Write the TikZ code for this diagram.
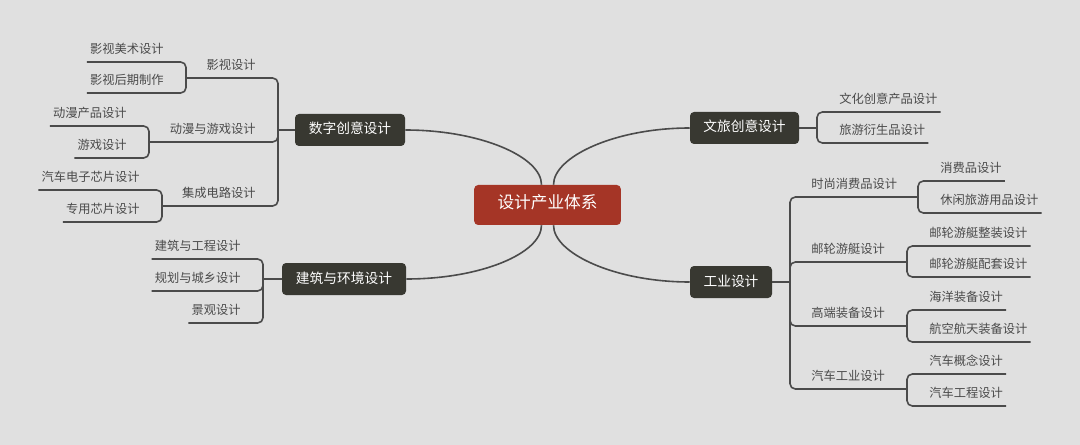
\documentclass[tikz,border=0pt]{standalone}
\usepackage{fontspec}
\setmainfont{Noto Sans CJK SC}
\definecolor{canvas}{HTML}{E0E0E0}
\definecolor{wiregray}{HTML}{4B4B4B}
\definecolor{topicfill}{HTML}{383831}
\definecolor{rootfill}{HTML}{A53526}
\definecolor{labelgray}{HTML}{4A4A4A}
\tikzset{
  wire/.style={draw=wiregray, line width=1.2pt, rounded corners=4pt},
  rootbox/.style={fill=rootfill, text=white, rounded corners=3pt, inner sep=0pt,
    minimum width=110pt, minimum height=30pt, text height=0.8em, text depth=0.2em,
    font=\fontsize{12.5}{15}\selectfont},
  topicbox/.style={fill=topicfill, text=white, rounded corners=3pt, inner sep=0pt,
    minimum height=24pt, text height=0.8em, text depth=0.2em,
    font=\fontsize{10.3}{12}\selectfont},
  lab/.style={text=labelgray, inner xsep=2.25pt, inner ysep=4.5pt,
    text height=0.8em, text depth=0.2em, font=\fontsize{9.2}{11}\selectfont}
}
\begin{document}
\begin{tikzpicture}[x=0.75pt, y=-0.75pt]
  \fill[canvas] (0,0) rectangle (1080,445);

  % centre and main topics
  \node[rootbox] (root) at (547.5,205) {设计产业体系};
  \node[topicbox, minimum width=82.5pt] (digital) at (350,130) {数字创意设计};
  \node[topicbox, minimum width=93pt] (archi) at (344,279) {建筑与环境设计};
  \node[topicbox, minimum width=81.75pt] (travel) at (744.5,128) {文旅创意设计};
  \node[topicbox, minimum width=61.5pt] (indus) at (731,282) {工业设计};

  \draw[wire] ([xshift=-4.5pt]root.north) .. controls +(0,-28) and +(75,0) .. (digital.east);
  \draw[wire] ([xshift=4.5pt]root.north) .. controls +(0,-28) and +(-75,0) .. (travel.west);
  \draw[wire] ([xshift=-4.5pt]root.south) .. controls +(0,28) and +(75,0) .. (archi.east);
  \draw[wire] ([xshift=4.5pt]root.south) .. controls +(0,28) and +(-75,0) .. (indus.west);

  % digital creative design
  \coordinate (dg) at (278,130);
  \draw[wire] (digital.west) -- (dg);
  \node[lab, anchor=south east] (ys) at (259,78) {影视设计};
  \node[lab, anchor=south east] (dm) at (259,142) {动漫与游戏设计};
  \node[lab, anchor=south east] (jc) at (259,206) {集成电路设计};
  \coordinate (ysR) at (186,78);
  \coordinate (dmR) at (149,142);
  \coordinate (jcR) at (162,206);
  \draw[wire] (dg) |- (ysR);
  \draw[wire] (dg) |- (dmR);
  \draw[wire] (dg) |- (jcR);

  \node[lab, anchor=south east] (ysms) at (167,62) {影视美术设计};
  \node[lab, anchor=south east] (yshq) at (167,93) {影视后期制作};
  \node[lab, anchor=south east] (dmcp) at (130,126) {动漫产品设计};
  \node[lab, anchor=south east] (yxsj) at (130,158) {游戏设计};
  \node[lab, anchor=south east] (qcxp) at (143,190) {汽车电子芯片设计};
  \node[lab, anchor=south east] (zyxp) at (143,222) {专用芯片设计};
  \draw[wire] (ysR) |- (ysms.south west);
  \draw[wire] (ysR) |- (yshq.south west);
  \draw[wire] (dmR) |- (dmcp.south west);
  \draw[wire] (dmR) |- (yxsj.south west);
  \draw[wire] (jcR) |- (qcxp.south west);
  \draw[wire] (jcR) |- (zyxp.south west);

  % architecture and environment
  \coordinate (ar) at (263,279);
  \draw[wire] (archi.west) -- (ar);
  \node[lab, anchor=south east] (jzgc) at (244,259) {建筑与工程设计};
  \node[lab, anchor=south east] (ghcx) at (244,291) {规划与城乡设计};
  \node[lab, anchor=south east] (jgsj) at (244,323) {景观设计};
  \draw[wire] (ar) |- (jzgc.south west);
  \draw[wire] (ar) |- (ghcx.south west);
  \draw[wire] (ar) |- (jgsj.south west);

  % culture and tourism
  \coordinate (tr) at (817,128);
  \draw[wire] (travel.east) -- (tr);
  \node[lab, anchor=south west] (whcy) at (836,112) {文化创意产品设计};
  \node[lab, anchor=south west] (lyys) at (836,143) {旅游衍生品设计};
  \draw[wire] (tr) |- (whcy.south east);
  \draw[wire] (tr) |- (lyys.south east);

  % industrial design
  \coordinate (gy) at (790,282);
  \draw[wire] (indus.east) -- (gy);
  \node[lab, anchor=south west] (ss) at (808,197) {时尚消费品设计};
  \node[lab, anchor=south west] (yl) at (808,262) {邮轮游艇设计};
  \node[lab, anchor=south west] (gd) at (808,326) {高端装备设计};
  \node[lab, anchor=south west] (qc) at (808,389) {汽车工业设计};
  \coordinate (ssR) at (918,197);
  \coordinate (ylR) at (907,262);
  \coordinate (gdR) at (907,326);
  \coordinate (qcR) at (907,389);
  \draw[wire] (gy) |- (ssR);
  \draw[wire] (gy) |- (ylR);
  \draw[wire] (gy) |- (gdR);
  \draw[wire] (gy) |- (qcR);

  \node[lab, anchor=south west] (xfp) at (937,181) {消费品设计};
  \node[lab, anchor=south west] (xxly) at (937,213) {休闲旅游用品设计};
  \node[lab, anchor=south west] (ylzz) at (926,246) {邮轮游艇整装设计};
  \node[lab, anchor=south west] (ylpt) at (926,277) {邮轮游艇配套设计};
  \node[lab, anchor=south west] (hyzb) at (926,310) {海洋装备设计};
  \node[lab, anchor=south west] (hkht) at (926,342) {航空航天装备设计};
  \node[lab, anchor=south west] (qcgn) at (926,374) {汽车概念设计};
  \node[lab, anchor=south west] (qcgc) at (926,406) {汽车工程设计};
  \draw[wire] (ssR) |- (xfp.south east);
  \draw[wire] (ssR) |- (xxly.south east);
  \draw[wire] (ylR) |- (ylzz.south east);
  \draw[wire] (ylR) |- (ylpt.south east);
  \draw[wire] (gdR) |- (hyzb.south east);
  \draw[wire] (gdR) |- (hkht.south east);
  \draw[wire] (qcR) |- (qcgn.south east);
  \draw[wire] (qcR) |- (qcgc.south east);
\end{tikzpicture}
\end{document}
